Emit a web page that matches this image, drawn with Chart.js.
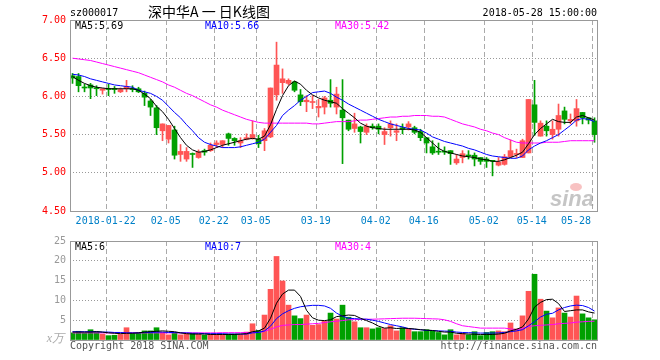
<!DOCTYPE html>
<html>
<head>
<meta charset="utf-8">
<script src="https://cdn.jsdelivr.net/npm/chart.js@4"></script>
<style>
  html, body { margin: 0; padding: 0; background: #fff; }
  #wrap { position: relative; width: 660px; height: 360px; }
  canvas { position: absolute; left: 0; }
  #kChart { top: 0; }
  #volChart { top: 230px; }
</style>
</head>
<body>
<div id="wrap">
  <canvas id="kChart" width="660" height="232"></canvas>
  <canvas id="volChart" width="660" height="130"></canvas>
</div>
<script>
// 日K数据 (2018-01-12 .. 2018-05-28, 88个交易日)
const opens = [6.27,6.26,6.12,6.15,6.11,6.08,6.10,6.10,6.06,6.10,6.10,6.10,6.04,5.94,5.85,5.55,5.44,5.56,5.24,5.18,
  5.25,5.20,5.29,5.29,5.37,5.37,5.51,5.45,5.39,5.44,5.45,5.44,5.42,5.47,6.02,6.18,6.17,6.19,6.02,5.93,
  5.92,5.85,5.86,5.95,5.86,5.82,5.69,5.58,5.60,5.53,5.61,5.61,5.50,5.59,5.53,5.59,5.60,5.59,5.54,5.46,
  5.34,5.28,5.28,5.29,5.13,5.20,5.23,5.23,5.20,5.18,5.16,5.10,5.11,5.21,5.24,5.20,5.26,5.89,5.48,5.61,
  5.50,5.57,5.81,5.68,5.68,5.79,5.72,5.68];
const highs = [6.30,6.30,6.16,6.17,6.14,6.10,6.16,6.13,6.11,6.21,6.14,6.12,6.07,5.96,5.88,5.64,5.62,5.61,5.37,5.33,
  5.26,5.30,5.31,5.39,5.42,5.42,5.52,5.46,5.46,5.51,5.68,5.49,5.58,6.11,6.71,6.36,6.23,6.20,6.09,6.01,
  6.01,5.96,6.00,6.22,6.12,6.22,5.69,5.78,5.61,5.64,5.64,5.64,5.59,5.68,5.64,5.64,5.67,5.61,5.57,5.46,
  5.42,5.39,5.34,5.29,5.24,5.29,5.29,5.26,5.20,5.20,5.16,5.20,5.24,5.43,5.31,5.44,5.96,6.21,5.68,5.68,
  5.68,5.90,5.86,5.77,5.96,5.79,5.72,5.72];
const lows = [6.17,6.06,6.06,5.97,6.01,6.03,6.01,6.04,6.05,6.06,6.06,6.05,5.88,5.75,5.50,5.42,5.39,5.18,5.15,5.15,
  5.07,5.19,5.23,5.28,5.33,5.33,5.36,5.36,5.33,5.43,5.44,5.33,5.29,5.46,5.95,6.04,6.15,6.06,5.88,5.80,
  5.84,5.73,5.77,5.86,5.77,5.12,5.55,5.53,5.39,5.50,5.57,5.51,5.37,5.48,5.42,5.51,5.56,5.51,5.42,5.26,
  5.24,5.24,5.24,5.11,5.11,5.13,5.18,5.09,5.11,5.07,4.96,5.09,5.10,5.20,5.20,5.20,5.26,5.49,5.48,5.48,
  5.44,5.48,5.64,5.64,5.61,5.64,5.64,5.40];
const closes = [6.24,6.14,6.11,6.11,6.10,6.10,6.09,6.09,6.09,6.13,6.09,6.06,5.99,5.86,5.59,5.64,5.62,5.23,5.28,5.28,
  5.24,5.27,5.27,5.36,5.39,5.42,5.45,5.42,5.42,5.46,5.50,5.38,5.55,6.11,6.41,6.23,6.21,6.08,5.93,5.95,
  5.93,5.87,5.98,5.91,6.03,5.72,5.57,5.64,5.54,5.61,5.59,5.57,5.54,5.64,5.55,5.57,5.64,5.53,5.46,5.39,
  5.26,5.27,5.27,5.25,5.18,5.25,5.22,5.18,5.15,5.15,5.15,5.14,5.21,5.29,5.25,5.42,5.96,5.66,5.65,5.55,
  5.57,5.75,5.70,5.70,5.84,5.72,5.69,5.50];
const ma5 = [6.26,6.21,6.17,6.14,6.12,6.11,6.10,6.10,6.10,6.10,6.10,6.08,6.03,5.97,5.87,5.80,5.70,5.58,5.46,5.36,
  5.30,5.27,5.28,5.30,5.33,5.36,5.38,5.40,5.42,5.44,5.45,5.44,5.48,5.63,5.83,6.01,6.14,6.20,6.16,6.08,
  6.02,5.98,5.95,5.93,5.91,5.84,5.78,5.72,5.65,5.61,5.59,5.58,5.57,5.57,5.57,5.57,5.57,5.56,5.53,5.46,
  5.39,5.32,5.28,5.26,5.24,5.22,5.21,5.20,5.18,5.17,5.15,5.15,5.17,5.20,5.23,5.27,5.38,5.50,5.58,5.64,
  5.70,5.67,5.66,5.66,5.73,5.75,5.72,5.69];
const ma10 = [6.29,6.28,6.26,6.23,6.21,6.19,6.17,6.15,6.14,6.13,6.12,6.08,6.06,6.04,6.00,5.95,5.87,5.79,5.72,5.63,
  5.55,5.46,5.40,5.37,5.35,5.33,5.33,5.33,5.34,5.36,5.38,5.40,5.44,5.53,5.62,5.75,5.82,5.88,5.95,6.00,
  6.05,6.06,6.07,6.04,5.99,5.95,5.90,5.86,5.82,5.78,5.74,5.70,5.67,5.64,5.62,5.60,5.58,5.57,5.56,5.52,
  5.47,5.44,5.41,5.39,5.37,5.35,5.32,5.30,5.27,5.24,5.22,5.21,5.20,5.19,5.19,5.22,5.30,5.35,5.39,5.42,
  5.46,5.50,5.56,5.62,5.69,5.71,5.70,5.67];
const ma30 = [6.50,6.49,6.48,6.47,6.45,6.43,6.41,6.39,6.37,6.35,6.33,6.31,6.28,6.25,6.22,6.19,6.15,6.12,6.08,6.04,
  6.01,5.97,5.93,5.89,5.86,5.82,5.79,5.76,5.73,5.70,5.68,5.66,5.65,5.65,5.65,5.65,5.65,5.65,5.65,5.65,
  5.64,5.64,5.65,5.66,5.67,5.67,5.67,5.68,5.69,5.69,5.70,5.71,5.72,5.73,5.73,5.74,5.74,5.75,5.75,5.75,
  5.74,5.74,5.73,5.70,5.67,5.64,5.62,5.60,5.57,5.55,5.52,5.50,5.46,5.43,5.40,5.39,5.39,5.39,5.39,5.40,
  5.40,5.40,5.41,5.42,5.42,5.42,5.42,5.42];

// 成交量 (万)
const volumes = [1.8,2.2,1.8,2.6,2.0,1.5,1.1,1.2,1.4,3.1,1.7,1.8,2.3,2.3,3.1,1.9,1.3,1.9,1.3,1.5,
  1.7,1.5,1.2,1.4,1.4,1.4,1.5,1.5,1.4,2.0,4.1,2.4,6.3,12.8,21.1,14.9,8.8,6.1,5.4,6.3,
  3.7,3.9,4.7,6.8,5.3,8.8,5.75,4.6,3.1,3.1,2.8,3.1,2.9,3.6,2.3,3.1,2.8,2.1,2.1,2.6,
  2.2,1.9,1.3,2.6,1.3,1.7,1.3,2.1,1.1,1.9,2.1,2.3,2.1,4.3,2.8,6.1,12.3,16.6,10.3,7.3,
  5.6,8.1,6.8,5.8,11.1,6.6,5.6,5.1];
const volMa5 = [2.0,2.0,2.0,2.0,2.1,2.0,1.8,1.7,1.6,1.7,1.7,1.8,2.0,2.1,2.2,2.3,2.2,2.1,1.8,1.6,
  1.5,1.5,1.5,1.4,1.4,1.4,1.4,1.4,1.5,1.6,2.1,2.3,3.0,5.5,9.3,11.6,12.6,12.6,11.0,7.5,
  5.6,5.0,4.9,5.1,5.9,6.1,6.3,6.2,5.5,4.9,4.3,3.5,3.0,3.1,2.9,3.0,2.9,2.8,2.6,2.5,
  2.4,2.2,2.0,2.0,1.7,1.6,1.5,1.45,1.4,1.4,1.4,1.5,1.7,2.3,2.7,3.3,5.3,8.3,9.5,10.2,
  10.3,9.2,7.2,7.4,7.6,7.6,7.1,6.8];
const volMa10 = [2.1,2.1,2.1,2.1,2.1,2.0,2.0,1.9,1.9,1.8,1.8,1.8,1.9,1.9,2.0,2.0,1.9,1.9,1.8,1.8,
  1.7,1.7,1.6,1.6,1.6,1.6,1.5,1.5,1.5,1.5,1.8,1.9,2.3,3.5,5.4,6.6,7.4,8.0,8.4,8.6,
  8.75,8.75,8.6,8.0,6.8,6.0,5.5,5.4,5.3,5.25,5.0,4.7,4.3,3.9,3.6,3.3,2.9,2.7,2.6,2.4,
  2.4,2.3,2.25,2.2,2.0,1.9,1.85,1.8,1.75,1.75,1.75,1.8,1.9,2.1,2.3,2.6,3.6,4.6,5.8,6.5,
  6.75,7.6,8.2,8.6,8.8,8.7,8.2,7.3];
const volMa30 = [1.8,1.8,1.8,1.8,1.8,1.8,1.8,1.8,1.8,1.8,1.8,1.8,1.8,1.8,1.8,1.8,1.8,1.8,1.8,1.8,
  1.8,1.8,1.8,1.8,1.8,1.85,1.85,1.85,1.85,1.9,1.9,1.9,2.2,2.7,3.3,3.7,3.8,3.9,3.9,4.0,
  4.1,4.2,4.4,4.6,4.75,4.9,5.1,5.15,5.2,5.25,5.25,5.3,5.35,5.4,5.45,5.5,5.5,5.5,5.45,5.4,
  5.35,5.3,5.1,4.7,4.1,3.6,3.4,3.2,3.0,3.0,3.0,3.0,3.0,2.8,2.6,2.9,3.4,3.6,3.7,3.8,
  3.9,4.1,4.2,4.3,4.5,4.6,4.7,4.75];

// 横轴日期刻度 (交易日序号)
const tickIdx = [6, 16, 24, 31, 41, 51, 59, 69, 77, 87];
const tickLabels = ['2018-01-22', '02-05', '02-22', '03-05', '03-19', '04-02', '04-16', '05-02', '05-14', '05-28'];

const UP = '#ff5555';
const DOWN = '#00a000';
const MONO = '10px "DejaVu Sans Mono", "Liberation Mono", monospace';

const idx = closes.map((_, i) => i);
const candleColors = idx.map(i => closes[i] >= opens[i] ? UP : DOWN);
const pts = arr => arr.map((v, i) => ({ x: i, y: v }));

// 两个图共用的横轴
function xAxis() {
    return {
        type: 'linear',
        offset: false,
        min: -0.42,
        max: 87.58,
        afterBuildTicks: s => { s.ticks = tickIdx.map(i => ({ value: i - 0.3 })); },
        afterFit: s => { s.height = 0; },
        ticks: { display: false },
        grid: { color: '#aaa', lineWidth: 1, drawTicks: false, offset: false },
        border: { display: false, dash: [5, 3] }
    };
}

function maLine(data, color) {
    return {
        type: 'line',
        data: pts(data),
        borderColor: color,
        borderWidth: 1,
        pointRadius: 0,
        tension: 0,
        order: 1
    };
}

function frame(ctx, a) {
    ctx.strokeStyle = '#999';
    ctx.lineWidth = 1;
    ctx.strokeRect(a.left + 0.5, a.top + 0.5, a.right - a.left - 1, a.bottom - a.top);
}

function legend(ctx, y, items) {
    ctx.font = MONO;
    ctx.textAlign = 'left';
    ctx.textBaseline = 'middle';
    items.forEach(([text, color, x]) => {
        ctx.fillStyle = color;
        ctx.fillText(text, x, y);
    });
}

// K线图上的文字
const kDecor = {
    id: 'kDecor',
    afterDraw(chart) {
        const { ctx, chartArea: a, scales } = chart;
        ctx.save();
        frame(ctx, a);

        // 水印
        ctx.font = 'bold italic 22px "Liberation Sans", sans-serif';
        ctx.fillStyle = 'rgba(150,150,150,0.55)';
        ctx.textAlign = 'right';
        ctx.textBaseline = 'alphabetic';
        ctx.fillText('sina', a.right - 4, a.bottom - 5);
        ctx.fillStyle = 'rgba(240,120,120,0.45)';
        ctx.beginPath();
        ctx.ellipse(a.right - 22, a.bottom - 24, 6, 4, 0, 0, Math.PI * 2);
        ctx.fill();

        ctx.font = MONO;
        ctx.fillStyle = '#000';
        ctx.textBaseline = 'middle';
        ctx.textAlign = 'left';
        ctx.fillText('sz000017', a.left, 13);
        ctx.textAlign = 'right';
        ctx.fillText('2018-05-28 15:00:00', a.right - 1, 13);

        ctx.font = '14px "Noto Sans CJK SC", sans-serif';
        ctx.textAlign = 'center';
        ctx.fillText('深中华A 一 日K线图', 209, 12);

        legend(ctx, a.top + 6, [
            ['MA5:5.69', '#000', a.left + 5],
            ['MA10:5.66', '#0000ff', a.left + 135],
            ['MA30:5.42', '#ff00ff', a.left + 265]
        ]);

        // 日期标签
        ctx.font = MONO;
        ctx.fillStyle = '#0080c8';
        ctx.textAlign = 'left';
        scales.x.ticks.forEach((t, k) => {
            const label = tickLabels[k];
            const w = ctx.measureText(label).width;
            let x = scales.x.getPixelForValue(t.value) - 1 - w / 2;
            x = Math.min(x, a.right - 7 - w);
            ctx.fillText(label, x, a.bottom + 10);
        });
        ctx.restore();
    }
};

new Chart(document.getElementById('kChart'), {
    type: 'bar',
    data: {
        datasets: [
            maLine(ma5, '#000000'),
            maLine(ma10, '#0000ff'),
            maLine(ma30, '#ff00ff'),
            {
                type: 'bar',
                data: idx.map(i => ({ x: i, y: [opens[i], closes[i]] })),
                backgroundColor: candleColors,
                barThickness: 5,
                minBarLength: 1,
                grouped: false,
                order: 2
            },
            {
                type: 'bar',
                data: idx.map(i => ({ x: i, y: [lows[i], highs[i]] })),
                backgroundColor: candleColors,
                barThickness: 1,
                grouped: false,
                order: 3
            }
        ]
    },
    options: {
        responsive: false,
        animation: false,
        devicePixelRatio: 1,
        layout: { padding: { top: 20, right: 62, bottom: 21, left: 0 } },
        plugins: { legend: { display: false }, tooltip: { enabled: false } },
        scales: {
            x: xAxis(),
            y: {
                min: 4.5,
                max: 7,
                afterFit: s => { s.width = 70; },
                ticks: {
                    stepSize: 0.5,
                    color: '#ff0000',
                    font: { family: '"DejaVu Sans Mono"', size: 10 },
                    padding: 4,
                    callback: v => Number(v).toFixed(2)
                },
                grid: { color: '#999', drawTicks: false },
                border: { display: false, dash: [1, 2] }
            }
        }
    },
    plugins: [kDecor]
});

// 成交量图上的文字
const volDecor = {
    id: 'volDecor',
    afterDraw(chart) {
        const { ctx, chartArea: a } = chart;
        ctx.save();
        frame(ctx, a);
        legend(ctx, a.top + 6, [
            ['MA5:6', '#000', a.left + 5],
            ['MA10:7', '#0000ff', a.left + 135],
            ['MA30:4', '#ff00ff', a.left + 265]
        ]);
        ctx.font = 'italic 12px "Liberation Serif", serif';
        ctx.fillStyle = '#aaa';
        ctx.textAlign = 'right';
        ctx.fillText('x万', a.left - 6, a.bottom - 1);

        ctx.font = MONO;
        ctx.fillStyle = '#555';
        ctx.textAlign = 'left';
        ctx.fillText('Copyright 2018 SINA.COM', a.left, a.bottom + 6);
        ctx.textAlign = 'right';
        ctx.fillText('http://finance.sina.com.cn', a.right - 1, a.bottom + 6);
        ctx.restore();
    }
};

new Chart(document.getElementById('volChart'), {
    type: 'bar',
    data: {
        datasets: [
            maLine(volMa5, '#000000'),
            maLine(volMa10, '#0000ff'),
            maLine(volMa30, '#ff00ff'),
            {
                type: 'bar',
                data: pts(volumes),
                backgroundColor: candleColors,
                barThickness: 5,
                grouped: false,
                order: 2
            }
        ]
    },
    options: {
        responsive: false,
        animation: false,
        devicePixelRatio: 1,
        layout: { padding: { top: 11, right: 62, bottom: 20, left: 0 } },
        plugins: { legend: { display: false }, tooltip: { enabled: false } },
        scales: {
            x: xAxis(),
            y: {
                min: 0,
                max: 25,
                afterFit: s => { s.width = 70; },
                ticks: {
                    stepSize: 5,
                    color: '#999',
                    font: { family: '"DejaVu Sans Mono"', size: 10 },
                    padding: 4,
                    callback: v => v === 0 ? '' : v
                },
                grid: { color: '#999', drawTicks: false },
                border: { display: false, dash: [1, 2] }
            }
        }
    },
    plugins: [volDecor]
});
</script>
</body>
</html>
